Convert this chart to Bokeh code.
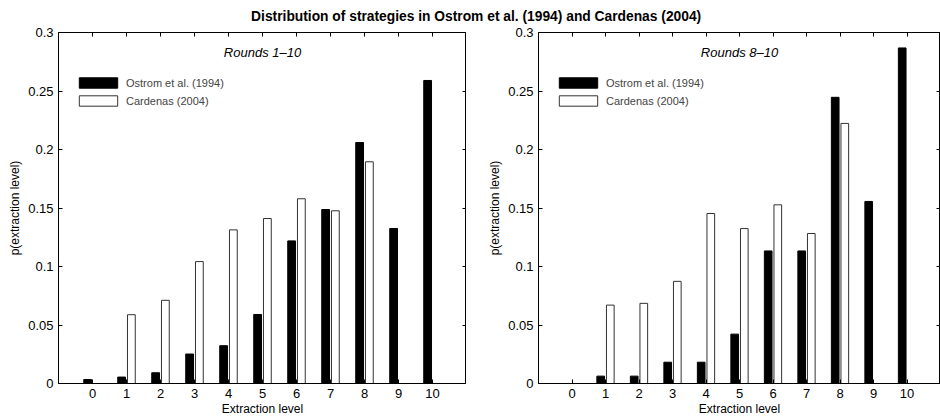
from bokeh.plotting import figure
from bokeh.layouts import column, row
from bokeh.models import (ColumnDataSource, Range1d, FixedTicker, LinearAxis, Label,
                          Legend, LegendItem)
from bokeh.transform import dodge
from bokeh.embed import file_html
from bokeh.resources import INLINE

# ---- data ----
levels = [0, 1, 2, 3, 4, 5, 6, 7, 8, 9, 10]
ostrom_rounds_1_10 = [0.0034, 0.0055, 0.0092, 0.0252, 0.0323, 0.0590, 0.1219, 0.1487, 0.2060, 0.1325, 0.2590]
cardenas_rounds_1_10 = [0.0, 0.0588, 0.0711, 0.1042, 0.1313, 0.1410, 0.1579, 0.1476, 0.1895, 0.0, 0.0]
ostrom_rounds_8_10 = [0.0, 0.0063, 0.0063, 0.0182, 0.0182, 0.0422, 0.1133, 0.1133, 0.2446, 0.1556, 0.2868]
cardenas_rounds_8_10 = [0.0, 0.0670, 0.0685, 0.0873, 0.1453, 0.1324, 0.1527, 0.1282, 0.2223, 0.0, 0.0]
y_ticks = [0, 0.05, 0.1, 0.15, 0.2, 0.25, 0.3]
y_tick_labels = ["0", "0.05", "0.1", "0.15", "0.2", "0.25", "0.3"]
series_names = ["Ostrom et al. (1994)", "Cardenas (2004)"]
title_text = "Distribution of strategies in Ostrom et al. (1994) and Cardenas (2004)"

FONT = "Liberation Sans"


def make_panel(ostrom, cardenas, subtitle, xmax, width, min_left):
    src = ColumnDataSource(dict(level=levels, ostrom=ostrom, cardenas=cardenas))
    p = figure(width=width, height=395, x_range=Range1d(-1, xmax), y_range=Range1d(0, 0.3),
               output_backend="svg", toolbar_location=None,
               min_border_left=min_left, min_border_right=0, min_border_top=8, min_border_bottom=36)
    r1 = p.vbar(x=dodge("level", -0.143, range=p.x_range), top="ostrom", width=0.229, source=src,
                fill_color="black", line_color="black", line_width=1)
    r2 = p.vbar(x=dodge("level", 0.143, range=p.x_range), top="cardenas", width=0.229, source=src,
                fill_color="white", line_color="#333333", line_width=1)
    p.grid.visible = False
    p.outline_line_color = "black"
    p.outline_line_width = 1
    p.background_fill_color = "white"
    p.border_fill_color = "white"

    xa = p.xaxis[0]
    xa.ticker = FixedTicker(ticks=levels)
    xa.axis_label = "Extraction level"
    ya = p.yaxis[0]
    ya.ticker = FixedTicker(ticks=y_ticks)
    ya.major_label_overrides = dict(zip(y_ticks, y_tick_labels))
    ya.axis_label = "p(extraction level)"
    for ax in (xa, ya):
        ax.major_tick_in = 4
        ax.major_tick_out = 0
        ax.minor_tick_line_color = None
        ax.axis_line_color = "black"
        ax.major_tick_line_color = "black"
        ax.major_label_text_font = FONT
        ax.major_label_text_font_size = "13px"
        ax.major_label_text_color = "black"
        ax.axis_label_text_font = FONT
        ax.axis_label_text_font_size = "12px"
        ax.axis_label_text_font_style = "normal"
        ax.axis_label_text_color = "black"
    xa.major_label_standoff = 5
    xa.axis_label_standoff = 1
    ya.major_label_standoff = 5
    ya.axis_label_standoff = 3

    # mirrored ticks (top and right), no labels
    top = LinearAxis(ticker=FixedTicker(ticks=levels),
                     major_label_overrides={t: "" for t in levels})
    right = LinearAxis(ticker=FixedTicker(ticks=y_ticks),
                       major_label_overrides={t: "" for t in y_ticks})
    for ax in (top, right):
        ax.major_tick_in = 4
        ax.major_tick_out = 0
        ax.minor_tick_line_color = None
        ax.axis_line_color = None
        ax.major_tick_line_color = "black"
        ax.major_label_text_font_size = "0px"
        ax.major_label_standoff = 0
    p.add_layout(top, "above")
    p.add_layout(right, "right")

    legend = Legend(items=[LegendItem(label=series_names[0], renderers=[r1]),
                           LegendItem(label=series_names[1], renderers=[r2])],
                    location=(16, 276), padding=0, margin=0, spacing=5,
                    glyph_width=48, glyph_height=13, label_standoff=4,
                    label_text_font=FONT, label_text_font_size="11px",
                    border_line_color=None, background_fill_alpha=0)
    p.add_layout(legend, "center")

    p.add_layout(Label(x=5, y=0.283, text=subtitle, text_align="center", text_baseline="middle",
                       text_font=FONT, text_font_size="13px", text_font_style="italic",
                       text_color="black"))
    return p


p1 = make_panel(ostrom_rounds_1_10, cardenas_rounds_1_10, "Rounds 1\u201310", 11, 466, 58)
p2 = make_panel(ostrom_rounds_8_10, cardenas_rounds_8_10, "Rounds 8\u201310", 11, 474, 72)

tfig = figure(width=940, height=24, x_range=Range1d(0, 1), y_range=Range1d(0, 1),
              toolbar_location=None, output_backend="svg", min_border=0,
              x_axis_location=None, y_axis_location=None, outline_line_color=None)
tfig.grid.visible = False
tfig.add_layout(Label(x=0.506, y=0.333, text=title_text, text_align="center", text_baseline="middle",
                      text_font=FONT, text_font_size="13.8px", text_font_style="bold",
                      text_color="black"))

layout = column(tfig, row(p1, p2))

open("out.html", "w").write(file_html(layout, INLINE))
